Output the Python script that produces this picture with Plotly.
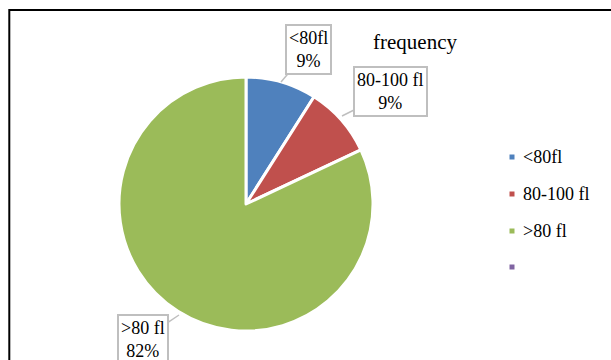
import plotly.graph_objects as go

# Share of samples by MCV range
categories = ["<80fl", "80-100 fl", ">80 fl"]
percent = [9, 9, 82]
legend_labels = ["<80fl", "80-100 fl", ">80 fl", ""]
colors = ["#4F81BD", "#C0504D", "#9BBB59", "#8064A2"]
series_name = "frequency"

W, H = 611, 360
FONT = "Liberation Serif"


def px(x):
    return x / W


def py(y):
    return 1 - y / H


fig = go.Figure()

# Pie centred at (246, 204) with radius 127 px
cx, cy, r = 246, 204, 127
fig.add_trace(go.Pie(
    labels=categories,
    values=percent,
    name=series_name,
    sort=False,
    direction="clockwise",
    rotation=0,
    marker=dict(colors=colors[:3], line=dict(color="white", width=3)),
    textinfo="none",
    hoverinfo="label+percent",
    showlegend=False,
    domain=dict(x=[px(cx - r), px(cx + r)], y=[py(cy + r), py(cy - r)]),
))

# Callout boxes: (tip x, tip y, box centre x, box centre y)
callouts = [
    (281, 82, 308, 50),
    (342, 116, 390, 92),
    (179, 315, 143, 339),
]
for (tx, ty, bx, by), cat, pct in zip(callouts, categories, percent):
    fig.add_annotation(
        x=px(tx), y=py(ty), xref="paper", yref="paper",
        ax=bx - tx, ay=by - ty, axref="pixel", ayref="pixel",
        text=f"{cat}<br>{pct}%",
        showarrow=True, arrowhead=0, arrowwidth=1.5, arrowcolor="#BFBFBF",
        bordercolor="#BFBFBF", borderwidth=2, borderpad=2, bgcolor="white",
        font=dict(family=FONT, size=18, color="black"),
        align="center",
    )

# Chart title
fig.add_annotation(
    x=px(415), y=py(42), xref="paper", yref="paper",
    text=series_name, showarrow=False,
    font=dict(family=FONT, size=21, color="black"),
    xanchor="center", yanchor="middle",
)

# Legend: small square markers with labels
legend_y = [157, 194, 231, 267]
for lab, col, ly in zip(legend_labels, colors, legend_y):
    fig.add_shape(
        type="rect", xref="paper", yref="paper",
        x0=px(509.5), x1=px(514.5), y0=py(ly + 2.5), y1=py(ly - 2.5),
        fillcolor=col, line=dict(width=0),
    )
    if lab:
        fig.add_annotation(
            x=px(521), y=py(ly), xref="paper", yref="paper",
            text=lab, showarrow=False,
            font=dict(family=FONT, size=18, color="black"),
            xanchor="left", yanchor="middle",
        )

# Chart frame (extends past the right and bottom edges)
fig.add_shape(
    type="rect", xref="paper", yref="paper",
    x0=px(9.3), y1=py(10), x1=1.2, y0=-0.2,
    line=dict(color="black", width=2), fillcolor="rgba(0,0,0,0)",
)

fig.update_layout(
    width=W, height=H,
    margin=dict(l=0, r=0, t=0, b=0),
    paper_bgcolor="white", plot_bgcolor="white",
    showlegend=False,
)

fig.write_html("out.html")
